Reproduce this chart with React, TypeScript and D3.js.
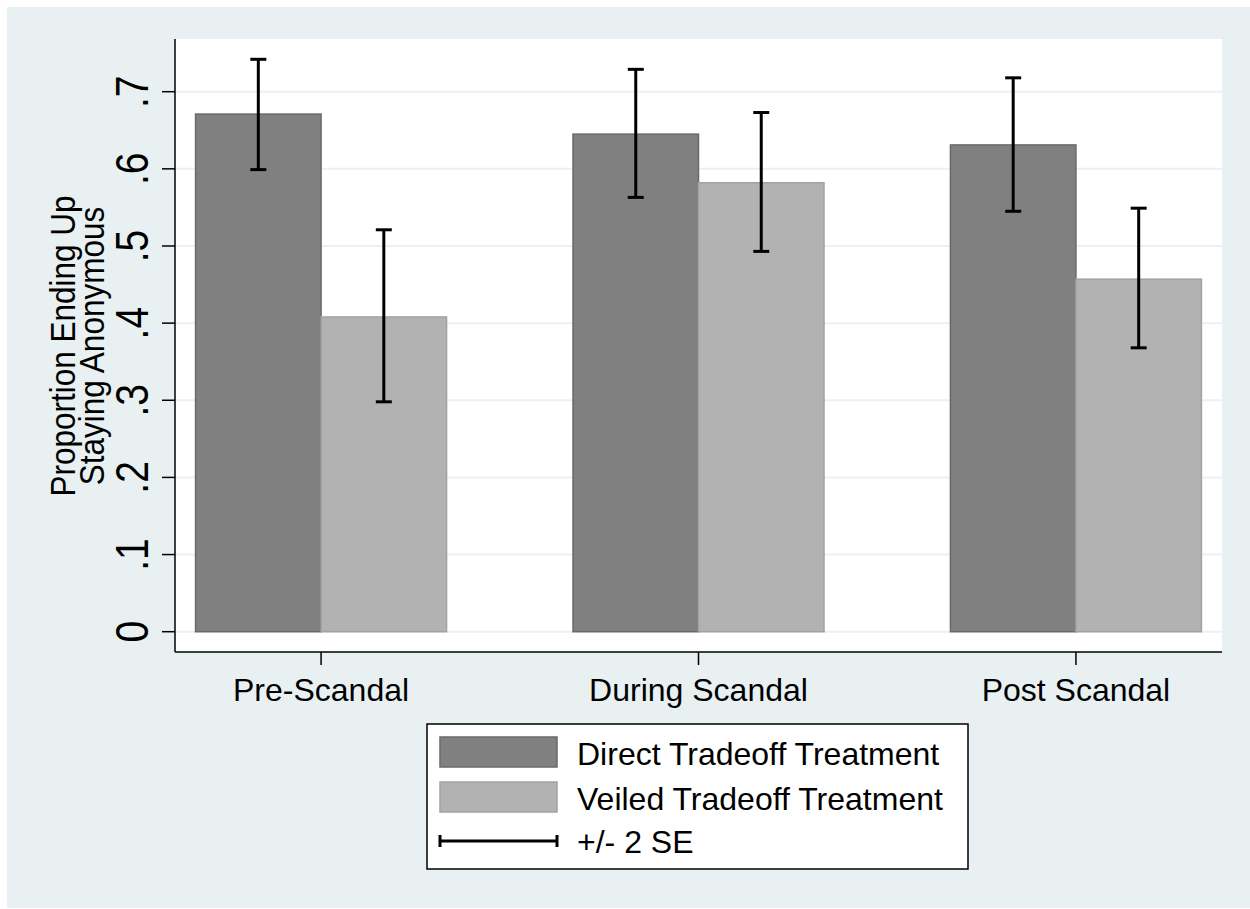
import React from "react";
import * as d3 from "d3";

const groups = ["Pre-Scandal", "During Scandal", "Post Scandal"];
const seriesKeys = ["direct", "veiled"];
const seriesLabels = ["Direct Tradeoff Treatment", "Veiled Tradeoff Treatment"];
const directMeans = [0.671, 0.645, 0.631];
const directLow = [0.599, 0.563, 0.545];
const directHigh = [0.742, 0.729, 0.718];
const veiledMeans = [0.408, 0.582, 0.457];
const veiledLow = [0.298, 0.493, 0.368];
const veiledHigh = [0.521, 0.673, 0.549];
const yTicks = [0, 0.1, 0.2, 0.3, 0.4, 0.5, 0.6, 0.7];
const yTickLabels = ["0", ".1", ".2", ".3", ".4", ".5", ".6", ".7"];
const yTitleLines = ["Proportion Ending Up", "Staying Anonymous"];
const errLabel = "+/- 2 SE";

const FONT = "'Liberation Sans', Arial, Helvetica, sans-serif";
const fills = ["#808080", "#b2b2b2"];
const strokes = ["#6a6a6a", "#a2a2a2"];

export default function App() {
  const W = 1250, H = 909;
  const left = 175, right = 1222, top = 39, bottom = 652;
  const x = d3.scalePoint<string>().domain(groups).range([left, right]).padding(0.387);
  const step = x.step();
  const barW = step * 0.3325;
  const sub = d3.scaleBand<string>().domain(seriesKeys).range([-barW, barW]).padding(0);
  const y = d3.scaleLinear().domain([0, 0.7]).range([631.7, 91.7]);

  const series = [
    { key: "direct", means: directMeans, low: directLow, high: directHigh },
    { key: "veiled", means: veiledMeans, low: veiledLow, high: veiledHigh },
  ];
  const stretch = 1.17;

  return (
    <svg width={W} height={H} style={{ position: "absolute", left: 0, top: 0 }} fontFamily={FONT}>
      <rect x={0} y={0} width={W} height={H} fill="#ffffff" />
      <rect x={7} y={7} width={W - 7} height={H - 8} fill="#e8f0f2" />
      <rect x={left} y={top} width={right - left} height={bottom - top} fill="#ffffff" />
      {yTicks.map((t) => (
        <line key={"g" + t} x1={left} x2={right} y1={y(t)} y2={y(t)} stroke="#eaf1f3" strokeWidth={2} />
      ))}
      {series.map((s, si) =>
        groups.map((g, gi) => {
          const bx = (x(g) as number) + (sub(s.key) as number);
          return (
            <rect
              key={s.key + g}
              x={bx}
              y={y(s.means[gi])}
              width={sub.bandwidth()}
              height={y(0) - y(s.means[gi])}
              fill={fills[si]}
              stroke={strokes[si]}
              strokeWidth={1.5}
            />
          );
        })
      )}
      {series.map((s) =>
        groups.map((g, gi) => {
          const cx = (x(g) as number) + (sub(s.key) as number) + sub.bandwidth() / 2;
          const y1 = y(s.high[gi]);
          const y2 = y(s.low[gi]);
          return (
            <g key={"e" + s.key + g} stroke="#000" strokeWidth={3}>
              <line x1={cx} x2={cx} y1={y1} y2={y2} />
              <line x1={cx - 8} x2={cx + 8} y1={y1} y2={y1} />
              <line x1={cx - 8} x2={cx + 8} y1={y2} y2={y2} />
            </g>
          );
        })
      )}
      {/* axes */}
      <line x1={left} x2={left} y1={top} y2={bottom} stroke="#000" strokeWidth={1.5} />
      <line x1={left} x2={right} y1={bottom} y2={bottom} stroke="#000" strokeWidth={1.5} />
      {yTicks.map((t, i) => (
        <g key={"t" + t}>
          <line x1={left - 13} x2={left} y1={y(t)} y2={y(t)} stroke="#000" strokeWidth={1.5} />
          <text
            transform={`translate(148,${y(t)}) scale(${stretch},1) rotate(-90)`}
            textAnchor="middle"
            fontSize={39}
            fill="#000"
          >
            {yTickLabels[i]}
          </text>
        </g>
      ))}
      {groups.map((g) => (
        <g key={"x" + g}>
          <line x1={x(g)} x2={x(g)} y1={bottom} y2={bottom + 13} stroke="#000" strokeWidth={1.5} />
          <text x={x(g)} y={701} textAnchor="middle" fontSize={32} fill="#000">
            {g}
          </text>
        </g>
      ))}
      {yTitleLines.map((l, i) => (
        <text
          key={l}
          transform={`translate(${75 + i * 29},346) scale(1.12,1) rotate(-90)`}
          textAnchor="middle"
          fontSize={31.5}
          fill="#000"
        >
          {l}
        </text>
      ))}
      {/* legend */}
      <rect x={427} y={724} width={541} height={145} fill="#ffffff" stroke="#000" strokeWidth={1.5} />
      {seriesLabels.map((l, i) => (
        <g key={l}>
          <rect x={440} y={737 + i * 45} width={117} height={30} fill={fills[i]} stroke={strokes[i]} strokeWidth={1.5} />
          <text x={577} y={765 + i * 44.5} fontSize={32} fill="#000">
            {l}
          </text>
        </g>
      ))}
      <g stroke="#000" strokeWidth={3}>
        <line x1={440} x2={557} y1={841} y2={841} />
        <line x1={440} x2={440} y1={835} y2={847} />
        <line x1={557} x2={557} y1={835} y2={847} />
      </g>
      <text x={577} y={853} fontSize={32} fill="#000">
        {errLabel}
      </text>
    </svg>
  );
}
